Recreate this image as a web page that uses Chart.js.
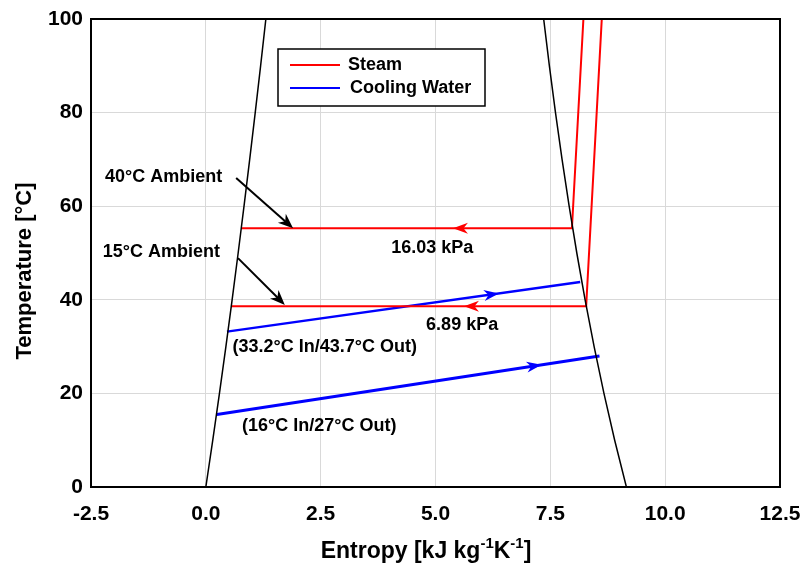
<!DOCTYPE html>
<html>
<head>
<meta charset="utf-8">
<script src="https://cdn.jsdelivr.net/npm/chart.js@4.4.1/dist/chart.umd.min.js"></script>
<style>
  html, body { margin: 0; padding: 0; background: #fff; }
  #wrap { width: 803px; height: 567px; }
</style>
</head>
<body>
<div id="wrap"><canvas id="tsChart" width="803" height="567"></canvas></div>
<script>
// saturation dome, entropy [kJ/kg K] vs temperature [C]
const satTemp = [0, 10, 20, 30, 40, 50, 60, 70, 80, 90, 100];
const satLiquidS = [0, 0.151, 0.2965, 0.4368, 0.5724, 0.7038, 0.8312, 0.955, 1.0753, 1.1925, 1.3069];
const satVaporS = [9.1562, 8.9008, 8.6672, 8.4533, 8.257, 8.0763, 7.9096, 7.7553, 7.6122, 7.4791, 7.3549];

// steam condensing paths (40C ambient @ 16.03 kPa, 15C ambient @ 6.89 kPa)
const steamHotS = [8.22, 7.97, 0.77];
const steamHotT = [100, 55.3, 55.3];
const steamColdS = [8.62, 8.28, 0.55];
const steamColdT = [100, 38.6, 38.6];

// cooling water paths
const waterHotS = [0.46, 8.15];
const waterHotT = [33.2, 43.8];
const waterColdS = [0.24, 8.57];
const waterColdT = [15.5, 28.0];

// where the flow arrows sit (entropy of the tip)
const steamArrowS = [5.38, 5.62];
const waterArrowS = [6.38, 7.31];

const xTicks = [-2.5, 0, 2.5, 5, 7.5, 10, 12.5];

const pts = (xs, ys) => xs.map((x, i) => ({ x: x, y: ys[i] }));

const FONT = '"Liberation Sans", Arial, sans-serif';

const annotations = {
  texts: [
    { text: '40°C Ambient', s: -0.92, t: 66.3 },
    { text: '15°C Ambient', s: -0.97, t: 50.3 },
    { text: '16.03 kPa', s: 4.93, t: 51.0 },
    { text: '6.89 kPa', s: 5.58, t: 34.7 },
    { text: '(33.2°C In/43.7°C Out)', s: 2.59, t: 30.0 },
    { text: '(16°C In/27°C Out)', s: 2.47, t: 13.1 }
  ],
  pointers: [
    { from: [0.66, 66.0], to: [1.9, 55.3] },
    { from: [0.7, 48.9], to: [1.72, 38.9] }
  ]
};

function arrowHead(ctx, x, y, ang, len, half, color) {
  ctx.save();
  ctx.translate(x, y);
  ctx.rotate(ang);
  ctx.fillStyle = color;
  ctx.beginPath();
  ctx.moveTo(0, 0);
  ctx.lineTo(-len, -half);
  ctx.lineTo(-len * 0.7, 0);
  ctx.lineTo(-len, half);
  ctx.closePath();
  ctx.fill();
  ctx.restore();
}

// arrow tip on a polyline segment, pointing from a to b
function flowArrow(chart, a, b, tipS, color) {
  const xs = chart.scales.x, ys = chart.scales.y;
  const k = (tipS - a.x) / (b.x - a.x);
  const t = a.y + k * (b.y - a.y);
  const px = xs.getPixelForValue(tipS), py = ys.getPixelForValue(t);
  const ang = Math.atan2(ys.getPixelForValue(b.y) - ys.getPixelForValue(a.y),
                         xs.getPixelForValue(b.x) - xs.getPixelForValue(a.x));
  arrowHead(chart.ctx, px, py, ang, 15, 5.5, color);
}

const overlay = {
  id: 'overlay',
  afterDatasetsDraw(chart) {
    const ctx = chart.ctx;
    const xs = chart.scales.x, ys = chart.scales.y;
    const area = chart.chartArea;

    // flow arrows
    flowArrow(chart, { x: steamHotS[1], y: steamHotT[1] }, { x: steamHotS[2], y: steamHotT[2] }, steamArrowS[0], '#ff0000');
    flowArrow(chart, { x: steamColdS[1], y: steamColdT[1] }, { x: steamColdS[2], y: steamColdT[2] }, steamArrowS[1], '#ff0000');
    flowArrow(chart, { x: waterHotS[0], y: waterHotT[0] }, { x: waterHotS[1], y: waterHotT[1] }, waterArrowS[0], '#0000ff');
    flowArrow(chart, { x: waterColdS[0], y: waterColdT[0] }, { x: waterColdS[1], y: waterColdT[1] }, waterArrowS[1], '#0000ff');

    // pointer arrows
    annotations.pointers.forEach(p => {
      const x1 = xs.getPixelForValue(p.from[0]), y1 = ys.getPixelForValue(p.from[1]);
      const x2 = xs.getPixelForValue(p.to[0]), y2 = ys.getPixelForValue(p.to[1]);
      const ang = Math.atan2(y2 - y1, x2 - x1);
      ctx.save();
      ctx.strokeStyle = '#000';
      ctx.lineWidth = 2;
      ctx.beginPath();
      ctx.moveTo(x1, y1);
      ctx.lineTo(x2 - 8 * Math.cos(ang), y2 - 8 * Math.sin(ang));
      ctx.stroke();
      ctx.restore();
      arrowHead(ctx, x2, y2, ang, 15, 6, '#000');
    });

    // text labels
    ctx.save();
    ctx.fillStyle = '#000';
    ctx.font = 'bold 18px ' + FONT;
    ctx.textAlign = 'center';
    ctx.textBaseline = 'middle';
    annotations.texts.forEach(a => {
      ctx.fillText(a.text, xs.getPixelForValue(a.s), ys.getPixelForValue(a.t));
    });
    ctx.restore();

    // frame
    ctx.save();
    ctx.strokeStyle = '#000';
    ctx.lineWidth = 2;
    ctx.strokeRect(area.left, area.top, area.right - area.left, area.bottom - area.top);
    ctx.restore();

    // legend box
    ctx.save();
    ctx.fillStyle = '#fff';
    ctx.fillRect(278, 49, 207, 57);
    ctx.strokeStyle = '#000';
    ctx.lineWidth = 1.5;
    ctx.strokeRect(278, 49, 207, 57);
    const items = [['Steam', '#ff0000', 65], ['Cooling Water', '#0000ff', 88]];
    items.forEach(([label, color, y]) => {
      ctx.strokeStyle = color;
      ctx.lineWidth = 2;
      ctx.beginPath();
      ctx.moveTo(290, y);
      ctx.lineTo(340, y);
      ctx.stroke();
      ctx.fillStyle = '#000';
      ctx.font = 'bold 18px ' + FONT;
      ctx.textAlign = 'left';
      ctx.textBaseline = 'middle';
      ctx.fillText(label, label === 'Steam' ? 348 : 350, y);
    });
    ctx.restore();
  },
  afterDraw(chart) {
    const ctx = chart.ctx;
    ctx.save();
    ctx.fillStyle = '#000';
    // x axis title with superscripts
    const cx = 426;
    const base = 558;
    const big = 'bold 23px ' + FONT, small = 'bold 15px ' + FONT;
    const parts = [['Entropy [kJ kg', big, 0], ['-1', small, -10], ['K', big, 0], ['-1', small, -10], [']', big, 0]];
    let total = 0;
    parts.forEach(p => { ctx.font = p[1]; total += ctx.measureText(p[0]).width; });
    let x = cx - total / 2;
    ctx.textBaseline = 'alphabetic';
    ctx.textAlign = 'left';
    parts.forEach(p => {
      ctx.font = p[1];
      ctx.fillText(p[0], x, base + p[2]);
      x += ctx.measureText(p[0]).width;
    });
    // y axis title
    ctx.translate(25, 271);
    ctx.rotate(-Math.PI / 2);
    ctx.font = 'bold 22px ' + FONT;
    ctx.textAlign = 'center';
    ctx.textBaseline = 'middle';
    ctx.fillText('Temperature [°C]', 0, 0);
    ctx.restore();
  }
};

const lineSet = (data, color, width) => ({
  data: data,
  showLine: true,
  borderColor: color,
  borderWidth: width,
  pointRadius: 0,
  fill: false,
  tension: 0
});

new Chart(document.getElementById('tsChart'), {
  type: 'scatter',
  data: {
    datasets: [
      lineSet(pts(satLiquidS, satTemp), '#000', 1.5),
      lineSet(pts(satVaporS, satTemp), '#000', 1.5),
      lineSet(pts(steamHotS, steamHotT), '#ff0000', 2),
      lineSet(pts(steamColdS, steamColdT), '#ff0000', 2),
      lineSet(pts(waterHotS, waterHotT), '#0000ff', 2.5),
      lineSet(pts(waterColdS, waterColdT), '#0000ff', 3)
    ]
  },
  options: {
    responsive: false,
    animation: false,
    layout: { padding: { top: 19, right: 23, left: 0, bottom: 0 } },
    plugins: { legend: { display: false }, tooltip: { enabled: false } },
    scales: {
      x: {
        type: 'linear',
        min: -2.5,
        max: 12.5,
        afterBuildTicks: (scale) => { scale.ticks = xTicks.map(v => ({ value: v })); },
        afterFit: (scale) => {
          scale.height = 80;
          scale.paddingLeft = 0;
          scale.paddingRight = 0;
        },
        grid: { color: '#d9d9d9', lineWidth: 1, drawTicks: false },
        border: { color: '#000', width: 2 },
        ticks: {
          padding: 15,
          color: '#000',
          font: { family: FONT, size: 21, weight: 'bold' },
          callback: (v) => v.toFixed(1)
        }
      },
      y: {
        type: 'linear',
        min: 0,
        max: 100,
        afterFit: (scale) => {
          scale.width = 91;
          scale.paddingTop = 0;
          scale.paddingBottom = 0;
        },
        grid: { color: '#d9d9d9', lineWidth: 1, drawTicks: false },
        border: { color: '#000', width: 2 },
        ticks: {
          stepSize: 20,
          padding: 8,
          color: '#000',
          font: { family: FONT, size: 21, weight: 'bold' }
        }
      }
    }
  },
  plugins: [overlay]
});
</script>
</body>
</html>
